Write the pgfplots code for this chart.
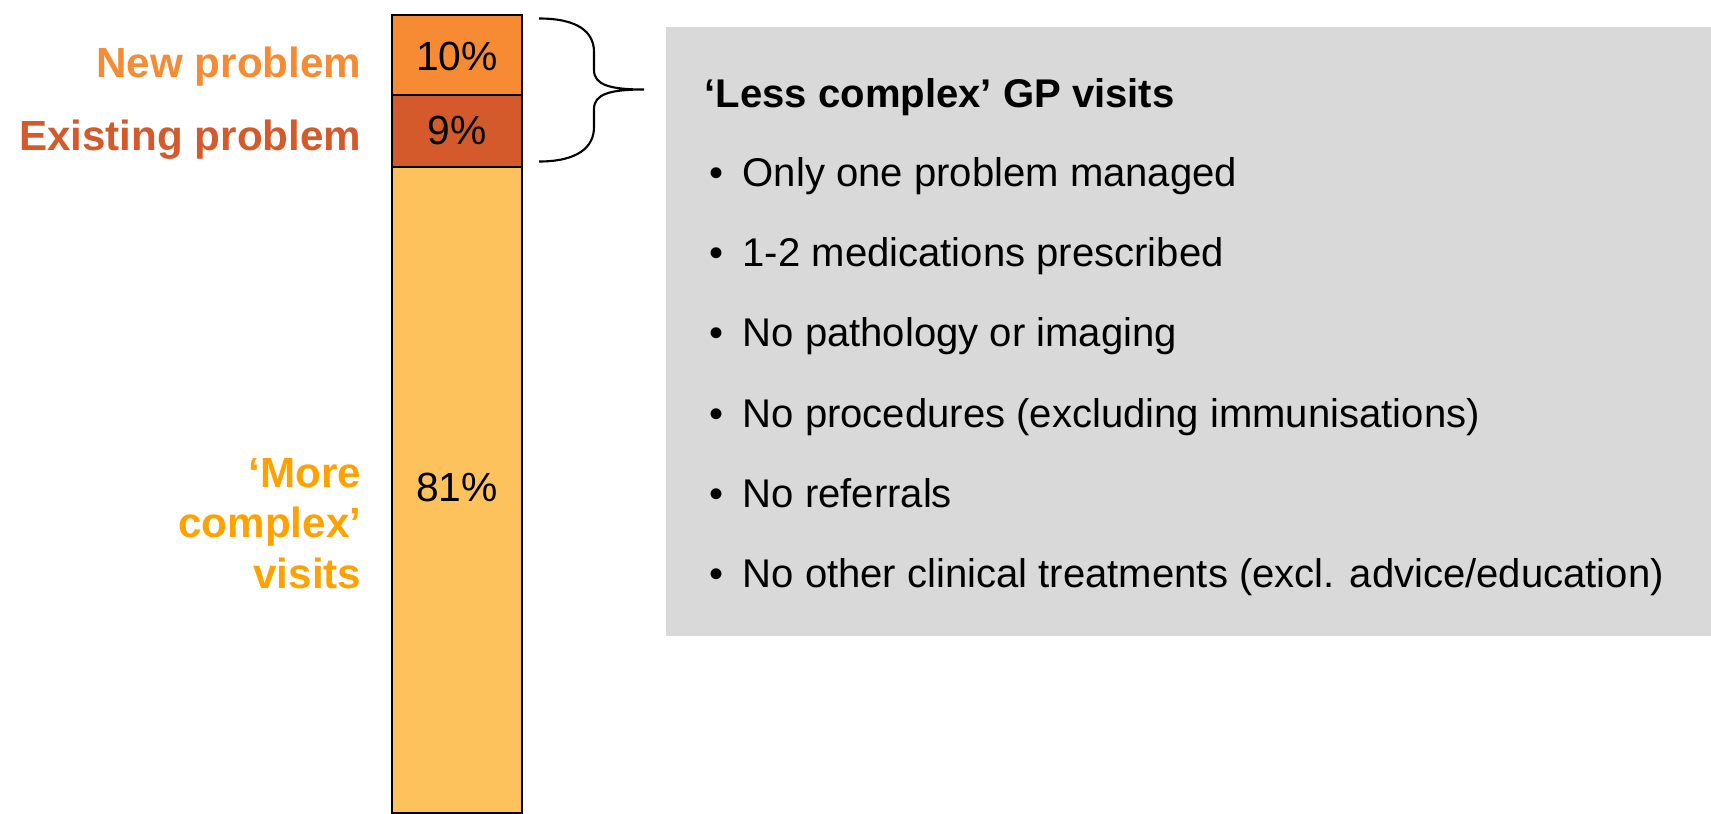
\documentclass[border=0pt]{standalone}
\usepackage{pgfplots}
\pgfplotsset{compat=1.18}
\usepackage{fontspec}
\setmainfont{Liberation Sans}

\definecolor{newprob}{HTML}{F68B33}
\definecolor{oldprob}{HTML}{D55A2B}
\definecolor{complexbar}{HTML}{FDC25B}
\definecolor{complexlab}{HTML}{FFA200}
\definecolor{boxgray}{HTML}{D9D9D9}

\begin{document}
\begin{tikzpicture}[
  lab/.style={anchor=base east, inner sep=0pt, font=\fontsize{12pt}{14pt}\selectfont\bfseries},
  item/.style={anchor=base west, inner sep=0pt, text=black, font=\fontsize{11.4pt}{13pt}\selectfont},
  pct/.style={inner sep=0pt, text=black, font=\fontsize{11.6pt}{13pt}\selectfont},
]
\begin{axis}[
  width=17.11cm, height=8.13cm, scale only axis,
  xmin=0, xmax=1711, ymin=0.1, ymax=101.85,
  hide axis, clip mode=individual,
  ybar stacked, bar width=130,
  every axis plot/.append style={draw=black, line width=0.6pt},
]
% bar segments (per cent of visits), bottom to top
\addplot[fill=complexbar] coordinates {(457,81)};
\addplot[fill=oldprob] coordinates {(457,9)};
\addplot[fill=newprob] coordinates {(457,10)};
\path (rel axis cs:0,0) (rel axis cs:1,1);
\end{axis}

% annotations, in pixels of the 1711 x 813 reference (y downwards)
\begin{scope}[x=0.1mm, y=-0.1mm, shift={(0,81.3mm)}]
% values in the segments
\node[pct] at (457,56) {10\%};
\node[pct] at (457,130) {9\%};
\node[pct] at (457,487) {81\%};

% segment names
\node[lab, text=newprob] at (362,77) {New problem};
\node[lab, text=oldprob] at (362,150) {Existing problem};
\node[lab, text=complexlab] at (362,487) {‘More};
\node[lab, text=complexlab] at (362,537) {complex’};
\node[lab, text=complexlab] at (362,588) {visits};

% brace over the two smaller segments
\draw[line width=0.6pt] (539,18.5) .. controls (578,18.5) and (594,32) .. (594,52)
  -- (594,70) .. controls (594,85) and (610,89.5) .. (644,89.5)
  .. controls (610,89.5) and (594,94) .. (594,109)
  -- (594,127) .. controls (594,147) and (578,161.5) .. (539,161.5);

% text box
\fill[boxgray] (666,27) rectangle (1711,636);
\node[item, font=\fontsize{11.4pt}{13pt}\selectfont\bfseries] at (704,107) {‘Less complex’ GP visits};
\node[item] at (709,186) {\textbullet};
\node[item] at (742,186) {Only one problem managed};
\node[item] at (709,266) {\textbullet};
\node[item] at (742,266) {1-2 medications prescribed};
\node[item] at (709,346) {\textbullet};
\node[item] at (742,346) {No pathology or imaging};
\node[item] at (709,427) {\textbullet};
\node[item] at (742,427) {No procedures (excluding immunisations)};
\node[item] at (709,507) {\textbullet};
\node[item] at (742,507) {No referrals};
\node[item] at (709,587) {\textbullet};
\node[item] at (742,587) {No other clinical treatments (excl. advice/education)};
\end{scope}
\end{tikzpicture}
\end{document}
